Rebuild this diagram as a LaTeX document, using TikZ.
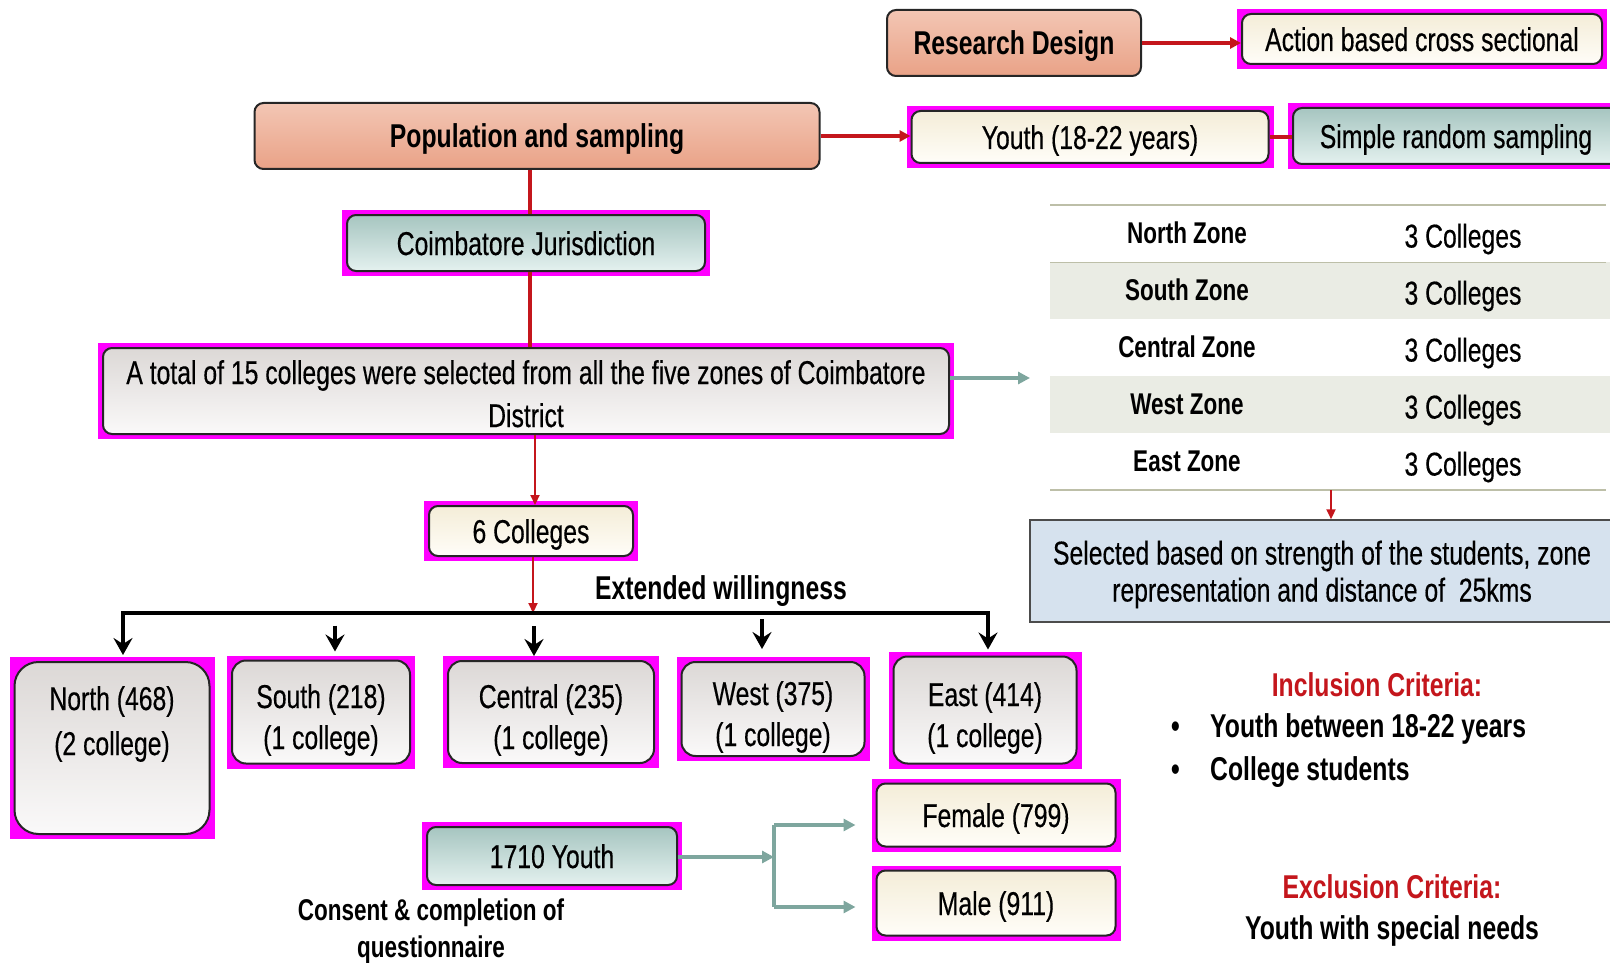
\documentclass[tikz,border=0pt]{standalone}
\usepackage{fontspec}
\setmainfont[FakeStretch=0.75, UprightFeatures={FakeBold=0.4}]{Liberation Sans}
\usetikzlibrary{arrows.meta,calc,backgrounds}

\definecolor{darkred}{HTML}{C4161C}
\definecolor{tealline}{HTML}{7EA69E}
\definecolor{frame}{HTML}{FF00FF}
\definecolor{salmontop}{HTML}{F3C6B4}
\definecolor{salmonbot}{HTML}{E9A287}
\definecolor{creamtop}{HTML}{F4EDD8}
\definecolor{creambot}{HTML}{FFFDF8}
\definecolor{tealtop}{HTML}{A6C5C0}
\definecolor{tealbot}{HTML}{E4F1EF}
\definecolor{greytop}{HTML}{DCD8D6}
\definecolor{greybot}{HTML}{FAF9F9}
\definecolor{selblue}{HTML}{D6E2EE}
\definecolor{rowshade}{HTML}{EAECE4}
\definecolor{rule}{HTML}{BDBFA8}

\begin{document}
\begin{tikzpicture}[x=1pt,y=-1pt,
    txt/.style={font=\fontsize{33}{41}\selectfont, align=center},
    boldtxt/.style={font=\fontsize{33}{41}\selectfont\bfseries, align=center},
    smallbold/.style={font=\fontsize{30}{37}\selectfont\bfseries, align=center},
    redbold/.style={boldtxt, text=darkred},
    oneline/.style={text height=24pt, text depth=0pt},
    twoline/.style={text height=74pt, text depth=0pt},
    box/.style={txt, oneline, draw=black!85, line width=2pt, rounded corners=9pt, inner sep=0pt},
    salmonbox/.style={box, top color=salmontop, bottom color=salmonbot},
    creambox/.style={box, top color=creamtop, bottom color=creambot},
    tealbox/.style={box, top color=tealtop, bottom color=tealbot},
    greybox/.style={box, top color=greytop, bottom color=greybot},
    selbox/.style={txt, draw=black!70, line width=1.5pt, fill=selblue, inner sep=0pt,
      font=\fontsize{33}{37}\selectfont, text height=61pt, text depth=0pt},
    redline/.style={darkred, line width=3.5pt},
    redarrow/.style={redline, -{Triangle[length=11pt,width=11pt]}},
    thinred/.style={darkred, line width=2.2pt, -{Triangle[length=10pt,width=9pt]}},
    tealarrow/.style={tealline, line width=4pt, -{Triangle[length=12pt,width=12pt]}},
    blackline/.style={black, line width=4.5pt},
    blackarrow/.style={blackline, -{Stealth[length=17pt,width=19pt,inset=6pt]}},
  ]
  \useasboundingbox (0,0) rectangle (1610,963);

  % top row
  \node[salmonbox, boldtxt, minimum width=254pt, minimum height=66pt] (design) at (1014,43) {Research Design};
  \node[creambox, minimum width=360pt, minimum height=50pt] (action) at (1422,39) {Action based cross sectional};
  \node[salmonbox, boldtxt, minimum width=565pt, minimum height=66pt] (pop) at (537,136) {Population and sampling};
  \node[creambox, minimum width=357pt, minimum height=52pt] (youth) at (1090,137) {Youth (18-22 years)};
  \node[tealbox, minimum width=326pt, minimum height=56pt] (srs) at (1456,136) {Simple random sampling};

  % middle column
  \node[tealbox, minimum width=358pt, minimum height=56pt] (coim) at (526,243) {Coimbatore Jurisdiction};
  \node[greybox, minimum width=846pt, minimum height=86pt, font=\fontsize{33}{43}\selectfont,
    text height=72pt] (total) at (526,391)
    {A total of 15 colleges were selected from all the five zones of Coimbatore\\District};
  \node[creambox, minimum width=204pt, minimum height=50pt] (six) at (531,531) {6 Colleges};
  \node[boldtxt] (ext) at (721,591) {Extended willingness};

  % zones
  \node[greybox, rounded corners=24pt, minimum width=195pt, minimum height=172pt] (north) at (112,748) {};
  \node[txt, font=\fontsize{33}{45}\selectfont] (northtxt) at (112,724) {North (468)\\(2 college)};
  \node[greybox, twoline, rounded corners=14pt, minimum width=178pt, minimum height=103pt] (south) at (321,712) {South (218)\\(1 college)};
  \node[greybox, twoline, rounded corners=14pt, minimum width=206pt, minimum height=102pt] (central) at (551,712) {Central (235)\\(1 college)};
  \node[greybox, twoline, rounded corners=14pt, minimum width=183pt, minimum height=94pt] (west) at (773,709) {West (375)\\(1 college)};
  \node[greybox, twoline, rounded corners=14pt, minimum width=183pt, minimum height=107pt] (east) at (985,710) {East (414)\\(1 college)};

  % youth split
  \node[tealbox, minimum width=250pt, minimum height=58pt] (ytotal) at (552,856) {1710 Youth};
  \node[smallbold] (consent) at (431,931) {Consent \& completion of\\questionnaire};
  \node[creambox, minimum width=239pt, minimum height=63pt] (female) at (996,815) {Female (799)};
  \node[creambox, minimum width=239pt, minimum height=65pt] (male) at (996,903) {Male (911)};

  % zone table
  \fill[rowshade] (1050,262) rectangle (1610,319);
  \fill[rowshade] (1050,376) rectangle (1610,433);
  \draw[rule, line width=2pt] (1050,205) -- (1606,205);
  \draw[rule, line width=1pt] (1050,262) -- (1606,262);
  \draw[rule, line width=2pt] (1050,490) -- (1606,490);
  \foreach \zone [count=\i] in {North,South,Central,West,East}{
    \node[smallbold] (zone\i) at (1187,{176+57*\i}) {\zone\ Zone};
    \node[txt] (coll\i) at (1463,{182+57*\i}) {3 Colleges};
  }
  \coordinate (tabL) at (1030,378);
  \coordinate (tabB) at (1331,490);
  \node[selbox, minimum width=584pt, minimum height=102pt] (sel) at (1322,571)
    {Selected based on strength of the students, zone\\representation and distance of~~25kms};

  % criteria
  \node[redbold] (incl) at (1377,685) {Inclusion Criteria:};
  \node[boldtxt, anchor=west, inner sep=0pt] (inc1) at (1171,729) {\makebox[39pt][l]{\textbullet}Youth between 18-22 years};
  \node[boldtxt, anchor=west, inner sep=0pt] (inc2) at (1171,772) {\makebox[39pt][l]{\textbullet}College students};
  \node[redbold] (excl) at (1392,887) {Exclusion Criteria:};
  \node[boldtxt] (exc1) at (1392,931) {Youth with special needs};

  % magenta frames
  \begin{scope}[on background layer]
    \foreach \n in {action,youth,srs,coim,total,six,north,south,central,west,east,ytotal,female,male}
      \fill[frame] ([shift={(-4,4)}]\n.south west) rectangle ([shift={(4,-4)}]\n.north east);
  \end{scope}

  % connectors
  \draw[redarrow] (design.east) -- (design.east -| action.west);
  \draw[redarrow] (pop.east) -- (pop.east -| youth.west);
  \draw[redline] (youth.east) -- (youth.east -| srs.west);
  \draw[redline] ([xshift=4pt]coim.north) -- ([xshift=4pt]coim.north |- pop.south);
  \draw[redline] ([xshift=4pt]coim.south) -- ([xshift=4pt]coim.south |- total.north);
  \draw[thinred] ([xshift=4pt]total.south -| six) -- ([xshift=4pt]six.north);
  \draw[tealarrow] (total.east |- tabL) -- (tabL);
  \draw[thinred] (tabB) -- (tabB |- sel.north);

  \coordinate (barL) at (123,613);
  \coordinate (barR) at (988,613);
  \draw[thinred] ([xshift=2pt]six.south) -- ([xshift=2pt]six.south |- barL);
  \draw[blackline, {Stealth[length=17pt,width=19pt,inset=6pt]}-{Stealth[length=17pt,width=19pt,inset=6pt]}]
    ([yshift=6pt]barL |- north.north) -- (barL) -- (barR) -- ([yshift=6pt]barR |- east.north);
  \draw[blackarrow] ([xshift=14pt,yshift=34pt]south.north) -- ([xshift=14pt,yshift=8pt]south.north);
  \draw[blackarrow] ([xshift=-17pt,yshift=34pt]central.north) -- ([xshift=-17pt,yshift=4pt]central.north);
  \draw[blackarrow] ([xshift=-11pt,yshift=42pt]west.north) -- ([xshift=-11pt,yshift=12pt]west.north);

  \coordinate (fork) at (774,857);
  \coordinate (forkT) at (774,825);
  \coordinate (forkB) at (774,907);
  \draw[tealarrow] (ytotal.east |- fork) -- (fork);
  \draw[tealline, line width=4pt] (forkT) -- (forkB);
  \draw[tealarrow] (forkT) -- ([xshift=-20pt]female.west |- forkT);
  \draw[tealarrow] (forkB) -- ([xshift=-20pt]male.west |- forkB);
\end{tikzpicture}
\end{document}
